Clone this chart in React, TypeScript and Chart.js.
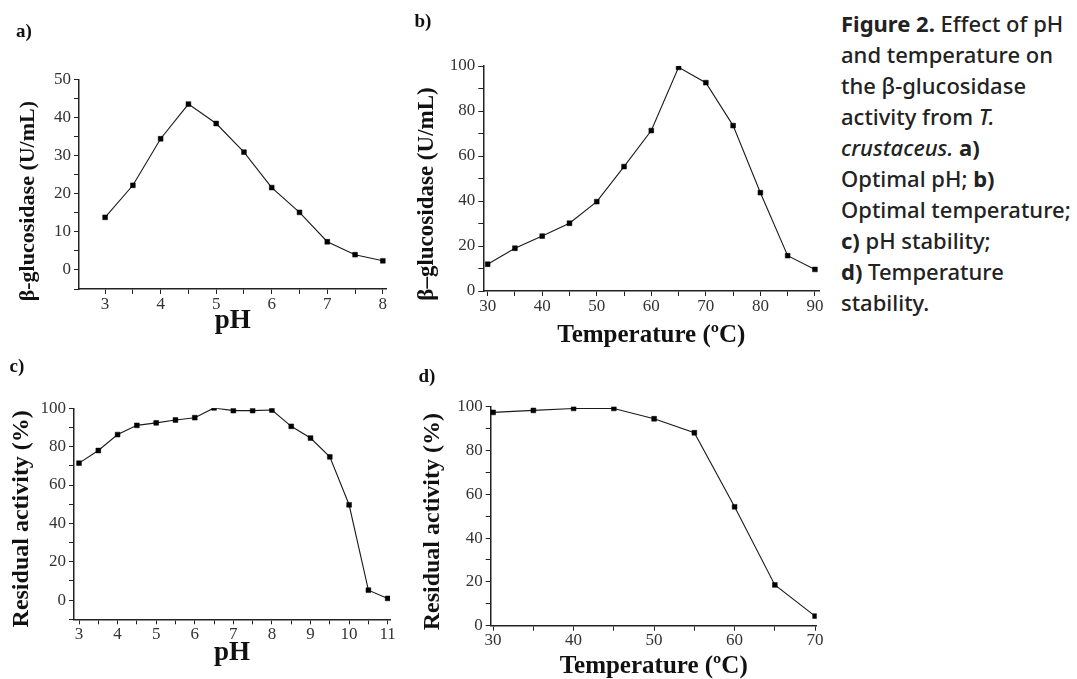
import React, { useEffect, useRef } from 'react';
import { Chart, registerables } from 'chart.js';

Chart.register(...registerables);

const SERIF = '"Liberation Serif", "Times New Roman", serif';
const TICK_FONT = '"Liberation Serif", "Times New Roman", serif';

// ---- Panel a: optimal pH ----
const phA = [3, 3.5, 4, 4.5, 5, 5.5, 6, 6.5, 7, 7.5, 8];
const activityA = [13.8, 22.2, 34.4, 43.5, 38.4, 30.9, 21.6, 15.1, 7.4, 4.0, 2.4];

// ---- Panel b: optimal temperature ----
const tempB = [30, 35, 40, 45, 50, 55, 60, 65, 70, 75, 80, 85, 90];
const activityB = [11.9, 19.0, 24.4, 30.1, 39.7, 55.3, 71.3, 99.4, 92.6, 73.5, 43.7, 15.7, 9.6];

// ---- Panel c: pH stability ----
const phC = [3, 3.5, 4, 4.5, 5, 5.5, 6, 6.5, 7, 7.5, 8, 8.5, 9, 9.5, 10, 10.5, 11];
const residualC = [71.4, 78.0, 86.3, 91.1, 92.4, 93.9, 95.1, 100.2, 98.8, 98.8, 99.1, 90.6, 84.5, 74.7, 49.7, 5.2, 0.9];

// ---- Panel d: temperature stability ----
const tempD = [30, 35, 40, 45, 50, 55, 60, 65, 70];
const residualD = [97.4, 98.3, 99.2, 99.2, 94.5, 88.1, 54.3, 18.6, 4.4];

const isMajor = (v: number, major: number) => Math.abs(v / major - Math.round(v / major)) < 1e-6;

const yTitlePlugin = {
  id: 'yTitle',
  afterDraw(chart: any, _args: any, opts: any) {
    if (!opts || !opts.text) return;
    const { ctx, chartArea } = chart;
    ctx.save();
    ctx.translate(chartArea.left - opts.dx, (chartArea.top + chartArea.bottom) / 2 + opts.dy);
    ctx.rotate(-Math.PI / 2);
    ctx.font = `bold ${opts.size}px ${SERIF}`;
    ctx.fillStyle = '#111';
    ctx.textAlign = 'center';
    ctx.textBaseline = 'middle';
    ctx.fillText(opts.text, 0, 0);
    ctx.restore();
  },
};

interface PanelSpec {
  left: number; top: number; width: number; height: number;
  xs: number[]; ys: number[];
  xMin: number; xMax: number; xStep: number; xMajor: number;
  yMin: number; yMax: number; yStep: number; yMajor: number;
  yAxisWidth: number; xAxisHeight: number; padTop: number; padRight: number;
  xTitle: string; xTitleSize: number; xTitlePad: number;
  yTitle: string; yTitleSize: number; yDx: number; yDy: number;
}

const panels: PanelSpec[] = [
  {
    left: 0, top: 40, width: 410, height: 300,
    xs: phA, ys: activityA,
    xMin: 2.53, xMax: 8.07, xStep: 0.5, xMajor: 1,
    yMin: -5, yMax: 50, yStep: 5, yMajor: 10,
    yAxisWidth: 79, xAxisHeight: 51, padTop: 39.3, padRight: 23.3,
    xTitle: 'pH', xTitleSize: 27, xTitlePad: 5,
    yTitle: 'β-glucosidase (U/mL)', yTitleSize: 22, yDx: 51, yDy: 17,
  },
  {
    left: 400, top: 20, width: 440, height: 330,
    xs: tempB, ys: activityB,
    xMin: 29.2, xMax: 90.8, xStep: 5, xMajor: 10,
    yMin: 0, yMax: 100, yStep: 10, yMajor: 20,
    yAxisWidth: 83.3, xAxisHeight: 59, padTop: 46, padRight: 20.7,
    xTitle: 'Temperature (ºC)', xTitleSize: 25, xTitlePad: 2,
    yTitle: 'β–glucosidase (U/mL)', yTitleSize: 23, yDx: 56, yDy: 15.5,
  },
  {
    left: 0, top: 380, width: 410, height: 299,
    xs: phC, ys: residualC,
    xMin: 2.87, xMax: 11.06, xStep: 0.5, xMajor: 1,
    yMin: -10, yMax: 100, yStep: 10, yMajor: 20,
    yAxisWidth: 74, xAxisHeight: 59.7, padTop: 28.3, padRight: 20,
    xTitle: 'pH', xTitleSize: 27, xTitlePad: 12,
    yTitle: 'Residual activity (%)', yTitleSize: 24, yDx: 52, yDy: 5,
  },
  {
    left: 400, top: 380, width: 440, height: 299,
    xs: tempD, ys: residualD,
    xMin: 29.7, xMax: 70.2, xStep: 5, xMajor: 10,
    yMin: 0, yMax: 100, yStep: 10, yMajor: 20,
    yAxisWidth: 90.7, xAxisHeight: 53.3, padTop: 26.7, padRight: 23.3,
    xTitle: 'Temperature (ºC)', xTitleSize: 25, xTitlePad: 0,
    yTitle: 'Residual activity (%)', yTitleSize: 24, yDx: 57.7, yDy: 5.5,
  },
];

function Panel({ spec }: { spec: PanelSpec }) {
  const ref = useRef<HTMLCanvasElement | null>(null);
  useEffect(() => {
    if (!ref.current) return;
    const axisColor = '#222';
    const chart = new Chart(ref.current, {
      type: 'line',
      data: {
        datasets: [
          {
            data: spec.xs.map((x, i) => ({ x, y: spec.ys[i] })),
            borderColor: '#1a1a1a',
            borderWidth: 1.1,
            pointStyle: 'rect',
            pointRadius: 3.4,
            pointBackgroundColor: '#000',
            pointBorderColor: '#000',
            pointBorderWidth: 0.5,
            tension: 0,
            fill: false,
          },
        ],
      },
      plugins: [yTitlePlugin],
      options: {
        animation: false,
        responsive: false,
        maintainAspectRatio: false,
        layout: { padding: { top: spec.padTop, right: spec.padRight, left: 0, bottom: 0 } },
        plugins: {
          legend: { display: false },
          tooltip: { enabled: false },
          yTitle: { text: spec.yTitle, size: spec.yTitleSize, dx: spec.yDx, dy: spec.yDy },
        } as any,
        scales: {
          x: {
            type: 'linear',
            min: spec.xMin,
            max: spec.xMax,
            afterFit: (s: any) => { s.height = spec.xAxisHeight; },
            border: { display: true, color: axisColor, width: 1.5 },
            grid: { drawOnChartArea: false, drawTicks: true, tickLength: 5, tickColor: axisColor, tickWidth: 1 },
            ticks: {
              stepSize: spec.xStep,
              autoSkip: false,
              includeBounds: false,
              maxRotation: 0,
              padding: 0,
              color: '#333',
              font: { family: TICK_FONT, size: 17 },
              callback: (v: any) => (isMajor(Number(v), spec.xMajor) ? String(Number(v)) : ''),
            },
            title: {
              display: true,
              text: spec.xTitle,
              color: '#111',
              font: { family: SERIF, size: spec.xTitleSize, weight: 'bold', lineHeight: 1 },
              padding: { top: 0, bottom: spec.xTitlePad },
            },
          },
          y: {
            type: 'linear',
            min: spec.yMin,
            max: spec.yMax,
            afterFit: (s: any) => { s.width = spec.yAxisWidth; },
            border: { display: true, color: axisColor, width: 1.5 },
            grid: { drawOnChartArea: false, drawTicks: true, tickLength: 5, tickColor: axisColor, tickWidth: 1 },
            ticks: {
              stepSize: spec.yStep,
              autoSkip: false,
              includeBounds: false,
              padding: 3,
              color: '#333',
              font: { family: TICK_FONT, size: 17 },
              callback: (v: any) => (isMajor(Number(v), spec.yMajor) ? String(Number(v)) : ''),
            },
          },
        },
      } as any,
    });
    return () => chart.destroy();
  }, [spec]);
  return (
    <canvas
      ref={ref}
      width={spec.width}
      height={spec.height}
      style={{ position: 'absolute', left: spec.left, top: spec.top, width: spec.width, height: spec.height }}
    />
  );
}

const labelStyle = (cx: number, cy: number): React.CSSProperties => ({
  position: 'absolute',
  left: cx,
  top: cy,
  transform: 'translate(-50%, -50%)',
  font: `bold 19px ${SERIF}`,
  color: '#111',
  whiteSpace: 'nowrap',
});

export default function App() {
  return (
    <div style={{ position: 'fixed', left: 0, top: 0, width: 1077, height: 679, background: '#fff', overflow: 'hidden' }}>
      {panels.map((p, i) => (
        <Panel key={i} spec={p} />
      ))}
      <div style={labelStyle(24, 31)}>a)</div>
      <div style={labelStyle(423, 21)}>b)</div>
      <div style={labelStyle(17, 366)}>c)</div>
      <div style={labelStyle(427, 376)}>d)</div>
      <div
        style={{
          position: 'absolute',
          left: 841,
          top: 8,
          whiteSpace: 'nowrap',
          fontFamily: '"Noto Sans", sans-serif',
          fontWeight: 500,
          fontSize: 22,
          lineHeight: '31px',
          color: '#222',
        }}
      >
        <b>Figure 2.</b> Effect of pH<br />
        and temperature on<br />
        the β-glucosidase<br />
        activity from <i>T.</i><br />
        <i>crustaceus.</i> <b>a)</b><br />
        Optimal pH; <b>b)</b><br />
        Optimal temperature;<br />
        <b>c)</b> pH stability;<br />
        <b>d)</b> Temperature<br />
        stability.
      </div>
    </div>
  );
}
